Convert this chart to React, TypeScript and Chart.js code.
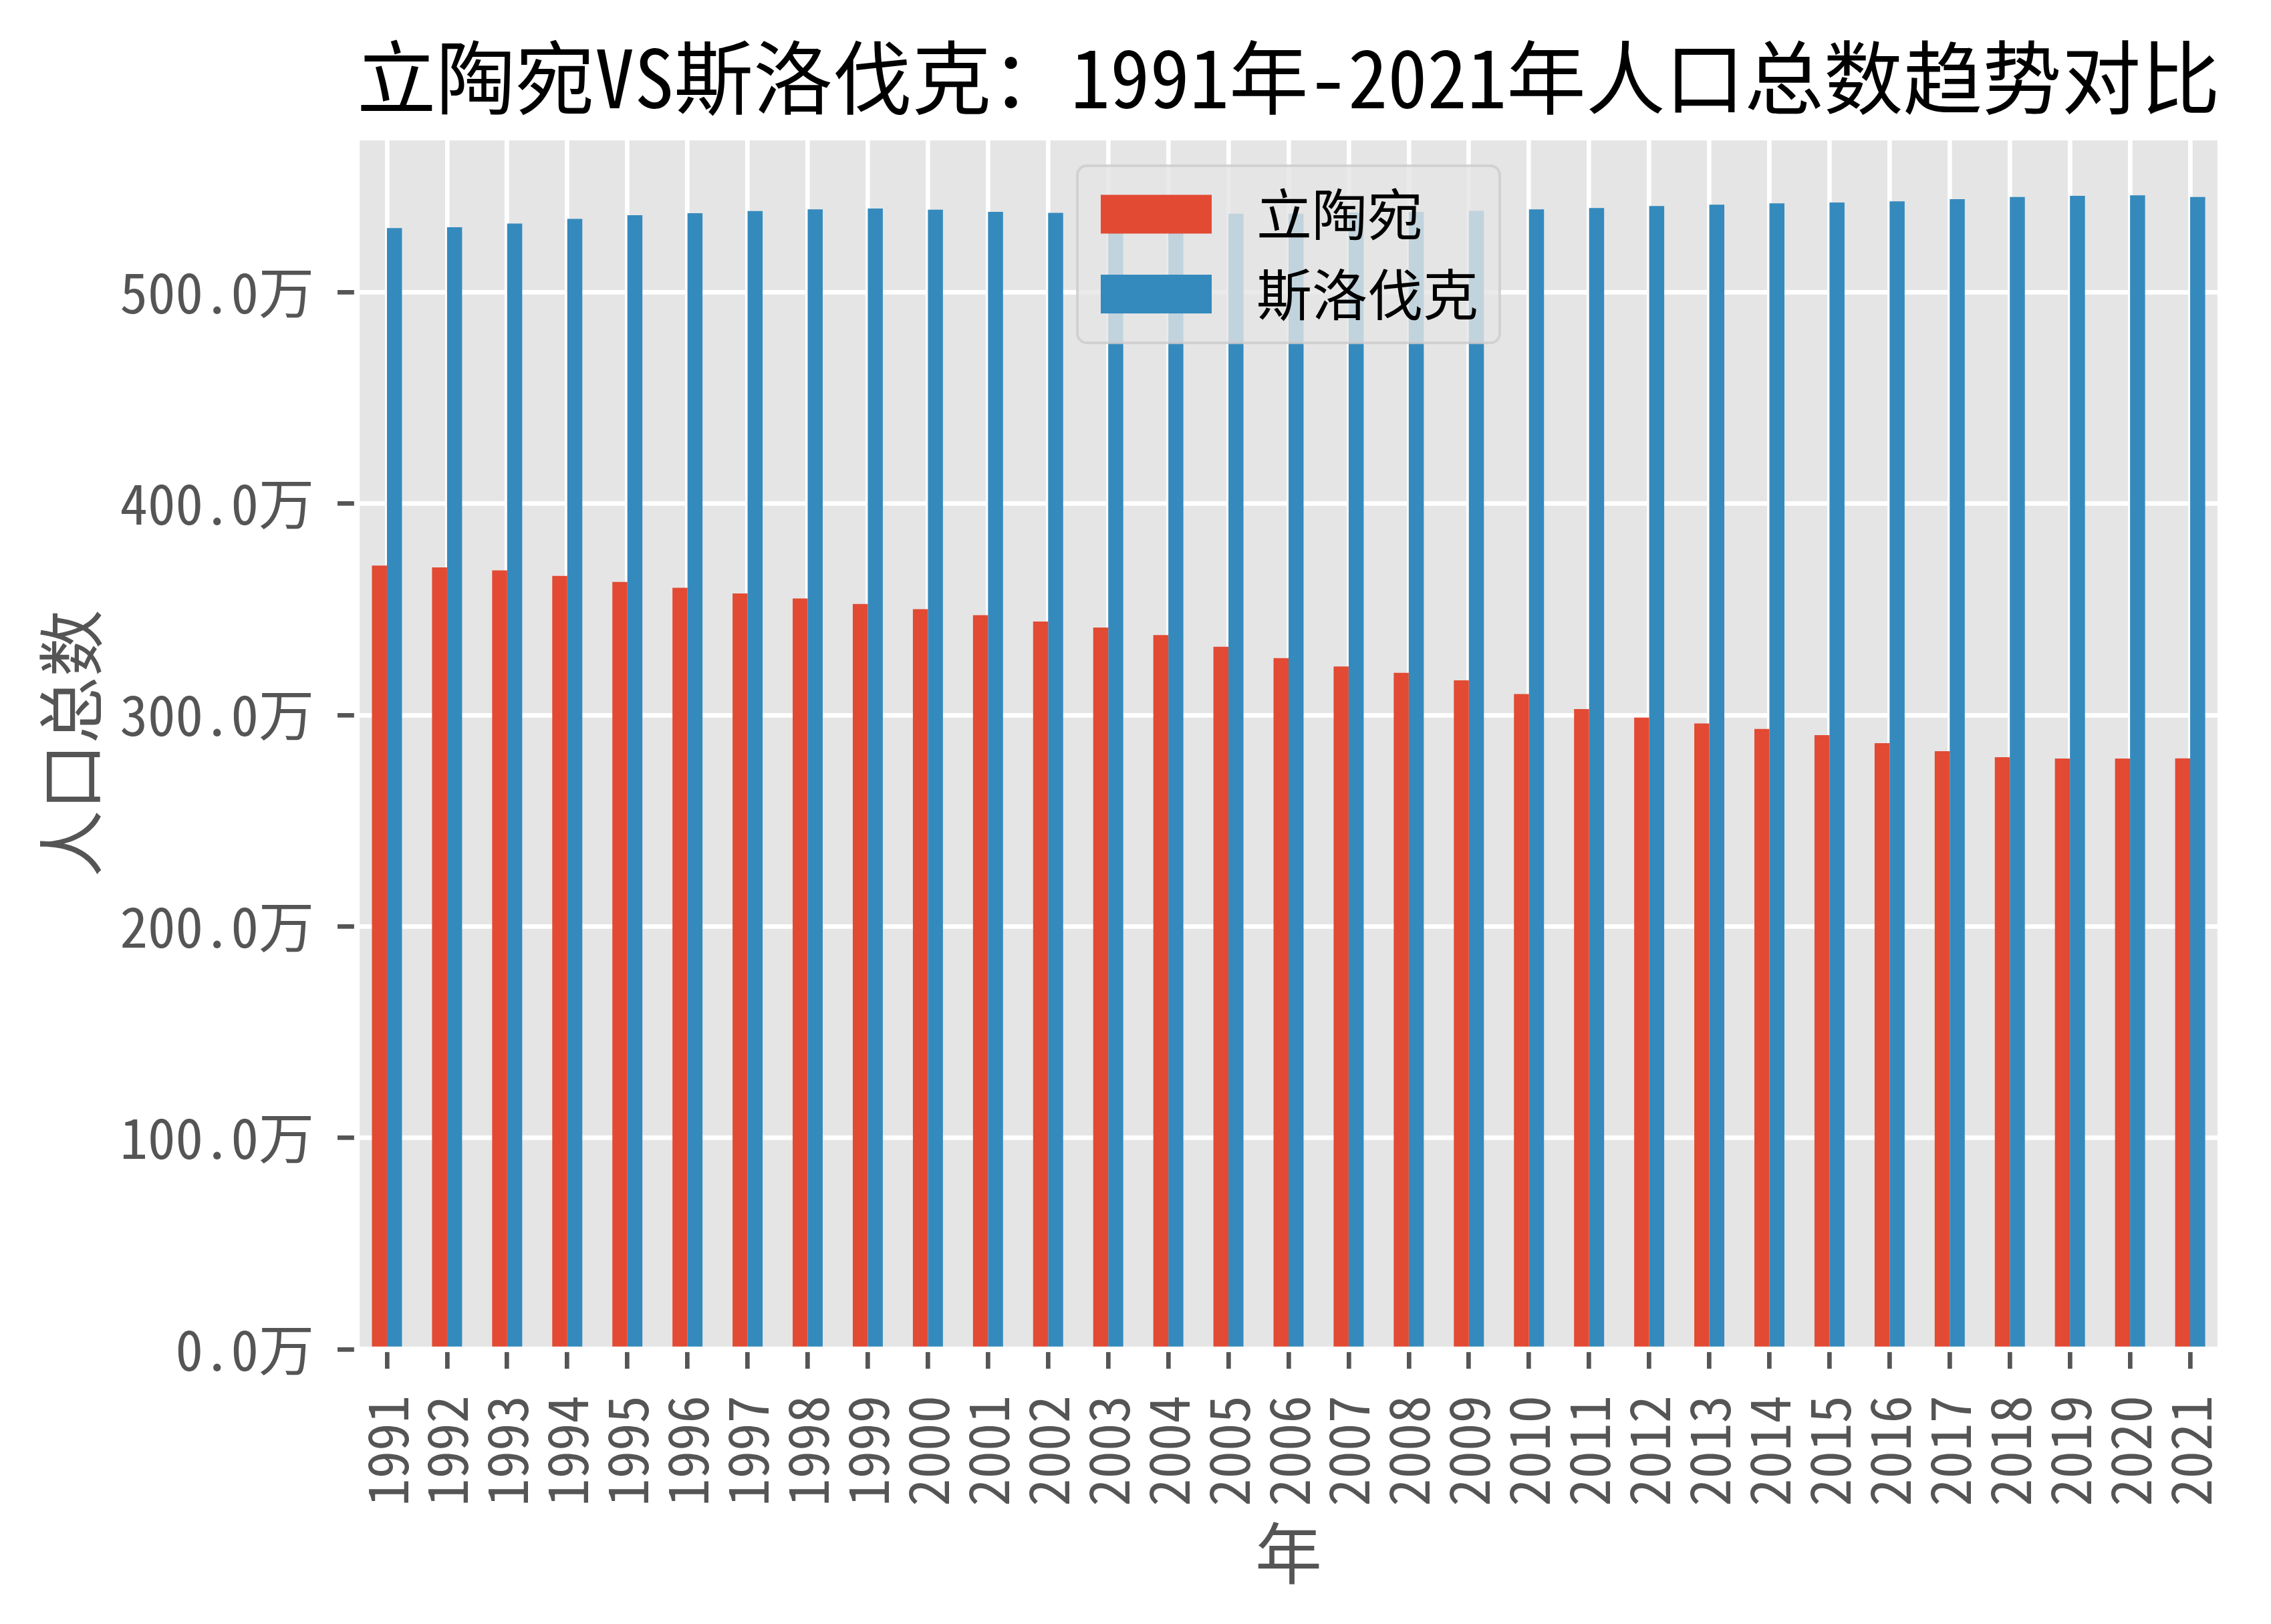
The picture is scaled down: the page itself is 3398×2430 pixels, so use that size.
import { useEffect, useRef } from "react";
import { Chart, registerables } from "chart.js";

Chart.register(...registerables);

// 年份（类别）
const years = [
  "1991", "1992", "1993", "1994", "1995", "1996", "1997", "1998", "1999", "2000",
  "2001", "2002", "2003", "2004", "2005", "2006", "2007", "2008", "2009", "2010",
  "2011", "2012", "2013", "2014", "2015", "2016", "2017", "2018", "2019", "2020", "2021",
];

// 人口总数（万人）
const lithuania = [
  370.7, 369.8, 368.4, 365.8, 363.0, 360.2, 357.5, 355.1, 352.5, 350.1,
  347.2, 344.2, 341.4, 337.8, 332.3, 326.9, 323.0, 320.0, 316.4, 309.9,
  302.8, 298.8, 296.0, 293.4, 290.5, 286.7, 282.9, 280.1, 279.4, 279.4, 279.5,
];
const slovakia = [
  530.3, 530.7, 532.5, 534.7, 536.4, 537.4, 538.4, 539.2, 539.6, 539.0,
  538.0, 537.5, 537.4, 537.3, 537.1, 537.1, 537.7, 538.0, 538.5, 539.2,
  539.8, 540.8, 541.4, 542.0, 542.4, 543.0, 544.0, 545.0, 545.6, 545.8, 545.0,
];

const seriesNames = ["立陶宛", "斯洛伐克"];
const seriesColors = ["#E24A33", "#348ABD"];

const titleText = "立陶宛VS斯洛伐克：1991年-2021年人口总数趋势对比";
const xTitle = "年";
const yTitle = "人口总数";

const FONT = '"Noto Sans Mono CJK SC", "Noto Sans CJK SC", "Noto Sans", sans-serif';
const W = 3398;
const H = 2430;

// 灰色绘图区背景、白色边框与图例（图例画在柱子之上，半透明）
const ggplotDecor = {
  id: "ggplotDecor",
  beforeDraw(chart: any) {
    const { ctx, chartArea: a } = chart;
    ctx.save();
    ctx.fillStyle = "#E5E5E5";
    ctx.fillRect(a.left, a.top, a.right - a.left, a.bottom - a.top);
    ctx.restore();
  },
  afterDatasetsDraw(chart: any) {
    const { ctx, chartArea: a } = chart;
    ctx.save();
    ctx.strokeStyle = "#FFFFFF";
    ctx.lineWidth = 8.3;
    ctx.strokeRect(a.left, a.top, a.right - a.left, a.bottom - a.top);
    ctx.restore();
  },
  afterDraw(chart: any) {
    const { ctx, chartArea: a } = chart;
    const fs = 83;
    ctx.save();
    ctx.font = `${fs}px ${FONT}`;
    const datasets = chart.data.datasets;
    let maxText = 0;
    datasets.forEach((d: any) => {
      maxText = Math.max(maxText, ctx.measureText(d.label).width);
    });
    const padL = 35;
    const patchW = 166;
    const patchH = 58;
    const textGap = 67;
    const boxW = padL + patchW + textGap + maxText + 32;
    const boxH = 265;
    const x = (a.left + a.right) / 2 - boxW / 2;
    const y = a.top + 42;
    ctx.beginPath();
    ctx.roundRect(x, y, boxW, boxH, 14);
    ctx.fillStyle = "rgba(229,229,229,0.8)";
    ctx.fill();
    ctx.lineWidth = 4;
    ctx.strokeStyle = "rgba(204,204,204,0.8)";
    ctx.stroke();
    datasets.forEach((d: any, i: number) => {
      const cy = y + 72.5 + i * 119.5;
      ctx.fillStyle = d.backgroundColor;
      ctx.fillRect(x + padL, cy - patchH / 2, patchW, patchH);
      ctx.fillStyle = "#000000";
      ctx.textBaseline = "middle";
      ctx.textAlign = "left";
      ctx.fillText(d.label, x + padL + patchW + textGap, cy);
    });
    ctx.restore();
  },
};

export default function App() {
  const canvasRef = useRef<HTMLCanvasElement | null>(null);

  useEffect(() => {
    const canvas = canvasRef.current;
    if (!canvas) return;
    const yMax = Math.max(...lithuania, ...slovakia) * 1.05;

    const chart = new Chart(canvas, {
      type: "bar",
      data: {
        labels: years,
        datasets: [
          { label: seriesNames[0], data: lithuania, backgroundColor: seriesColors[0], borderWidth: 0 },
          { label: seriesNames[1], data: slovakia, backgroundColor: seriesColors[1], borderWidth: 0 },
        ],
      },
      options: {
        responsive: false,
        animation: false,
        devicePixelRatio: 1,
        layout: { padding: { left: 0, right: 76, top: 0, bottom: 0 } },
        datasets: {
          bar: { categoryPercentage: 0.5, barPercentage: 1.0 },
        },
        plugins: {
          legend: { display: false },
          tooltip: { enabled: false },
          title: {
            display: true,
            fullSize: false,
            text: titleText,
            color: "#000000",
            font: { family: FONT, size: 120, weight: "normal", lineHeight: 1.2 },
            padding: { top: 44, bottom: 18 },
          },
        },
        scales: {
          x: {
            type: "category",
            offset: true,
            border: { display: false },
            grid: {
              offset: false,
              color: "#FFFFFF",
              lineWidth: 6.7,
              drawTicks: true,
              tickLength: 29,
              tickColor: "#555555",
              tickWidth: 6.7,
            },
            ticks: {
              autoSkip: false,
              maxRotation: 90,
              minRotation: 90,
              padding: 40,
              color: "#555555",
              font: { family: FONT, size: 83 },
            },
            title: {
              display: true,
              text: xTitle,
              color: "#555555",
              font: { family: FONT, size: 100, lineHeight: 1.2 },
              padding: { top: 0, bottom: 46 },
            },
            afterFit: (s: any) => {
              s.height = 411;
              s.paddingLeft = 0;
              s.paddingRight = 0;
            },
          },
          y: {
            min: 0,
            max: yMax,
            border: { display: false },
            grid: {
              color: "#FFFFFF",
              lineWidth: 6.7,
              drawTicks: true,
              tickLength: 29,
              tickColor: "#555555",
              tickWidth: 6.7,
            },
            ticks: {
              stepSize: 100,
              includeBounds: false,
              padding: 35,
              color: "#555555",
              font: { family: FONT, size: 83 },
              callback: (v: any) => `${Number(v).toFixed(1)}万`,
            },
            title: {
              display: true,
              text: yTitle,
              color: "#555555",
              font: { family: FONT, size: 100, lineHeight: 1.2 },
              padding: { top: 46, bottom: 0 },
            },
            afterFit: (s: any) => {
              s.width = 534;
            },
          },
        },
      },
      plugins: [ggplotDecor],
    });

    return () => {
      chart.destroy();
    };
  }, []);

  return (
    <div style={{ position: "absolute", left: 0, top: 0, width: W, height: H, background: "#FFFFFF" }}>
      <canvas ref={canvasRef} width={W} height={H} style={{ display: "block", width: W, height: H }} />
    </div>
  );
}
